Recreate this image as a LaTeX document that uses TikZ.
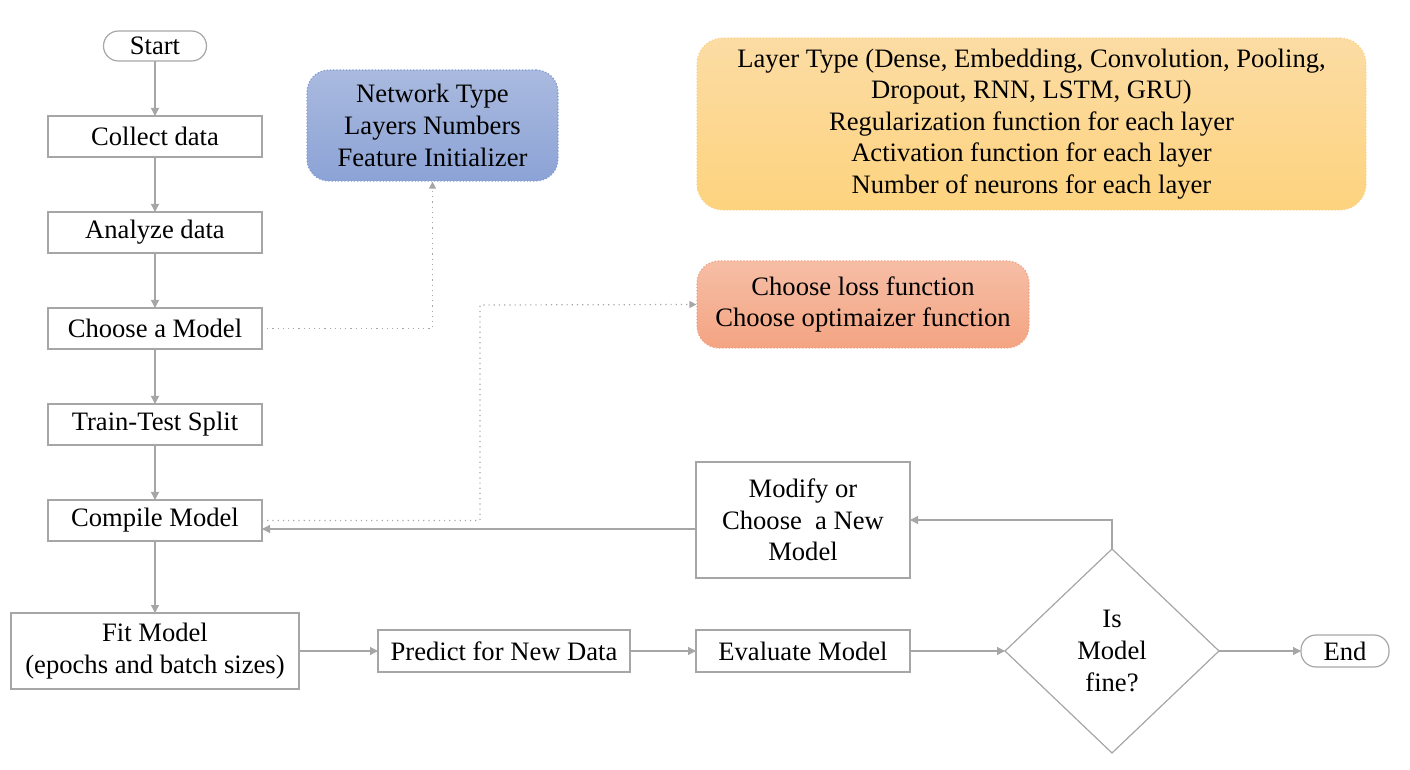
\documentclass[tikz,border=0pt]{standalone}
\usepackage{fontspec}
\setmainfont{LiberationSerif}[Extension=.ttf, UprightFont=*-Regular, BoldFont=*-Bold, ItalicFont=*-Italic]
\usetikzlibrary{positioning,shapes.geometric,arrows.meta}
\definecolor{linegray}{HTML}{A6A6A6}
\definecolor{bluetop}{HTML}{AABADF}
\definecolor{bluebot}{HTML}{8CA3D6}
\definecolor{blueedge}{HTML}{8199D2}
\definecolor{yeltop}{HTML}{FCDCA4}
\definecolor{yelbot}{HTML}{FDD37E}
\definecolor{yeledge}{HTML}{F9D38A}
\definecolor{saltop}{HTML}{F6BEA6}
\definecolor{salbot}{HTML}{F4A482}
\definecolor{saledge}{HTML}{F0A081}
\tikzset{
  box/.style={draw=linegray, line width=0.6pt, outer sep=0pt, minimum width=107pt, minimum height=20.5pt, inner sep=1pt, align=center},
  term/.style={draw=linegray, line width=0.6pt, outer sep=0pt, rounded corners=7.5pt, inner sep=1pt},
  decide/.style={diamond, draw=linegray, line width=0.6pt, outer sep=0pt, minimum width=107pt, minimum height=102pt, inner sep=0pt, align=center},
  note/.style={rounded corners=11pt, densely dotted, line width=0.6pt, align=center},
  line/.style={draw=linegray, line width=0.6pt, -{Triangle[length=4pt,width=4pt]}},
  dotline/.style={draw=linegray, line width=0.6pt, dotted, -{Triangle[length=3.5pt,width=3.5pt]}}
}
\begin{document}
\begin{tikzpicture}[x=0.5pt, y=-0.5pt, font=\rmfamily\fontsize{13.3}{15.8}\selectfont]
    \useasboundingbox (0,0) rectangle (1410,770);
    % main column
    \node (start) [term, minimum width=51.5pt, minimum height=15pt] at (155,46) {Start};
    \node (collect) [box, below=27.5pt of start] {Collect data};
    \node (analyze) [box, below=27.5pt of collect] {Analyze data};
    \node (choose) [box, below=27.5pt of analyze] {Choose a Model};
    \node (split) [box, below=27.5pt of choose] {Train-Test Split};
    \node (compile) [box, below=27.5pt of split] {Compile Model};
    % bottom row
    \node (fit) [box, minimum width=144pt, minimum height=38pt, below=36pt of compile] {Fit Model\\(epochs and batch sizes)};
    \node (predict) [box, minimum width=126pt, minimum height=21pt, right=39.5pt of fit] {Predict for New Data};
    \node (evaluate) [box, minimum height=21pt, right=33pt of predict] {Evaluate Model};
    \node (fine) [decide, right=47.5pt of evaluate] {Is\\Model\\fine?};
    \node (end) [term, minimum width=44pt, minimum height=16pt, right=41pt of fine] {End};
    \node (modify) [box, minimum height=58pt, above=26pt of evaluate] {Modify or\\Choose\ \ a New\\Model};
    % side notes
    \node (network) [note, draw=blueedge, top color=bluetop, bottom color=bluebot, minimum width=125.5pt, minimum height=55.5pt] at (432.5,125.5) {Network Type\\Layers Numbers\\Feature Initializer};
    \node (layers) [note, draw=yeledge, top color=yeltop, bottom color=yelbot, rounded corners=13pt, minimum width=334.5pt, minimum height=86pt] at (1031.5,124) {Layer Type (Dense, Embedding, Convolution, Pooling,\\Dropout, RNN, LSTM, GRU)\\Regularization function for each layer\\Activation function for each layer\\Number of neurons for each layer};
    \node (loss) [note, draw=saledge, top color=saltop, bottom color=salbot, minimum width=166pt, minimum height=43.5pt] at (863,304.5) {Choose loss function\\Choose optimaizer function};
    \coordinate (bend) at (480,305);
    % connectors
    \draw[line] (start) -- (collect);
    \draw[line] (collect) -- (analyze);
    \draw[line] (analyze) -- (choose);
    \draw[line] (choose) -- (split);
    \draw[line] (split) -- (compile);
    \draw[line] (compile) -- (fit);
    \draw[line] (fit) -- (predict);
    \draw[line] (predict) -- (evaluate);
    \draw[line] (evaluate) -- (fine);
    \draw[line] (fine) -- (end);
    \draw[line] (fine.north) |- (modify.east);
    \draw[line] ([yshift=-4.5pt]modify.west) -- ([yshift=-4.5pt]modify.west -| compile.east);
    \draw[dotline] (choose.east) -| (network.south);
    \draw[dotline] (compile.east) -| (bend) -- (loss.west);
\end{tikzpicture}
\end{document}
